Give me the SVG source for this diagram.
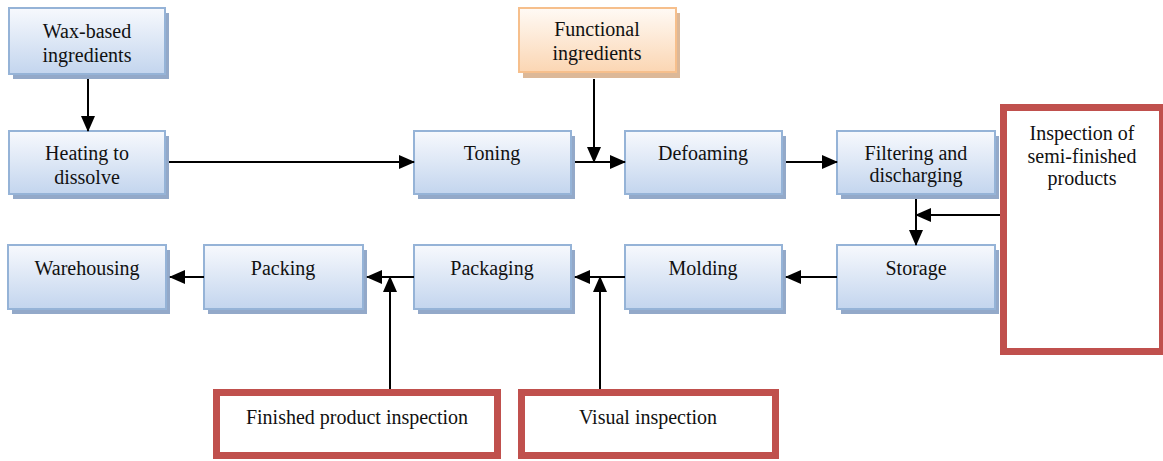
<svg xmlns="http://www.w3.org/2000/svg" width="1163" height="461" viewBox="0 0 1163 461">
<defs>
<linearGradient id="gb" x1="0" y1="0" x2="0" y2="1">
<stop offset="0" stop-color="#f7f9fd"/>
<stop offset="1" stop-color="#c3d5ee"/>
</linearGradient>
<linearGradient id="go" x1="0" y1="0" x2="0" y2="1">
<stop offset="0" stop-color="#fffaf5"/>
<stop offset="1" stop-color="#fbd6b3"/>
</linearGradient>
<marker id="ah" markerUnits="userSpaceOnUse" markerWidth="16" markerHeight="14" refX="15" refY="7" orient="auto">
<path d="M0,0 L16,7 L0,14 z" fill="#000"/>
</marker>
<clipPath id="cw"><rect x="0" y="0" width="200" height="67"/></clipPath>
<clipPath id="cf"><rect x="500" y="0" width="200" height="65"/></clipPath>
<clipPath id="cd"><rect x="830" y="120" width="200" height="184"/></clipPath>
</defs>
<style>
.sh{fill:#93a9c9;}
.shO{fill:#dcb898;}
.bx{fill:url(#gb);stroke:#95b3d7;stroke-width:2;}
.bo{fill:url(#go);stroke:#f6bf8c;stroke-width:2;}
.rd{fill:#fff;stroke:#c0504d;stroke-width:7;}
.c{fill:none;stroke:#000;stroke-width:2;marker-end:url(#ah);}
</style>
<g font-family="Liberation Serif, Times New Roman, serif" font-size="20" fill="#111" text-anchor="middle">
<g id="wax">
<rect class="sh" x="13" y="13" width="156" height="66"/>
<rect class="bx" x="9" y="8" width="156" height="66"/>
<g clip-path="url(#cw)"><text x="87" y="38">Wax-based</text><text x="87" y="62">ingredients</text></g>
</g>
<g id="functional">
<rect class="shO" x="523" y="13" width="157" height="65"/>
<rect class="bo" x="519" y="8" width="157" height="64"/>
<g clip-path="url(#cf)"><text x="597" y="36">Functional</text><text x="597" y="60">ingredients</text></g>
</g>
<g id="heating">
<rect class="sh" x="13" y="136" width="156" height="63"/>
<rect class="bx" x="9" y="131" width="156" height="63"/>
<text x="87" y="160">Heating to</text><text x="87" y="184">dissolve</text>
</g>
<g id="toning">
<rect class="sh" x="418" y="136" width="157" height="63"/>
<rect class="bx" x="414" y="131" width="157" height="63"/>
<text x="492" y="160">Toning</text>
</g>
<g id="defoaming">
<rect class="sh" x="629" y="136" width="157" height="63"/>
<rect class="bx" x="625" y="131" width="157" height="63"/>
<text x="703" y="160">Defoaming</text>
</g>
<g id="filtering">
<rect class="sh" x="841" y="136" width="158" height="63"/>
<rect class="bx" x="837" y="131" width="158" height="63"/>
<g clip-path="url(#cd)"><text x="916" y="160">Filtering and</text><text x="916" y="182">discharging</text></g>
</g>
<g id="semi">
<rect class="rd" x="1003.5" y="107.5" width="159" height="244"/>
<text x="1082" y="140">Inspection of</text><text x="1082" y="163">semi-finished</text><text x="1082" y="185">products</text>
</g>
<g id="warehousing">
<rect class="sh" x="12" y="250" width="158" height="64"/>
<rect class="bx" x="8" y="245" width="158" height="64"/>
<text x="87" y="275">Warehousing</text>
</g>
<g id="packing">
<rect class="sh" x="208" y="250" width="159" height="64"/>
<rect class="bx" x="204" y="245" width="159" height="64"/>
<text x="283" y="275">Packing</text>
</g>
<g id="packaging">
<rect class="sh" x="418" y="250" width="157" height="64"/>
<rect class="bx" x="414" y="245" width="157" height="64"/>
<text x="492" y="275">Packaging</text>
</g>
<g id="molding">
<rect class="sh" x="629" y="250" width="157" height="64"/>
<rect class="bx" x="625" y="245" width="157" height="64"/>
<text x="703" y="275">Molding</text>
</g>
<g id="storage">
<rect class="sh" x="841" y="250" width="158" height="64"/>
<rect class="bx" x="837" y="245" width="158" height="64"/>
<text x="916" y="275">Storage</text>
</g>
<g id="finished">
<rect class="rd" x="216.5" y="392.5" width="281" height="63"/>
<text x="357" y="424">Finished product inspection</text>
</g>
<g id="visual">
<rect class="rd" x="521.5" y="392.5" width="254" height="63"/>
<text x="648" y="424">Visual inspection</text>
</g>
</g>
<g id="connectors">
<path class="c" d="M88,79 L88,131"/>
<path class="c" d="M169,162 L414,162"/>
<path class="c" d="M575,162 L625,162"/>
<path class="c" d="M594,79 L594,162"/>
<path class="c" d="M786,162 L837,162"/>
<path class="c" d="M916,199 L916,245"/>
<path class="c" d="M1000,215 L916,215"/>
<path class="c" d="M837,277 L786,277"/>
<path class="c" d="M625,277 L575,277"/>
<path class="c" d="M600,389 L600,277"/>
<path class="c" d="M414,277 L367,277"/>
<path class="c" d="M390,389 L390,277"/>
<path class="c" d="M204,277 L170,277"/>
</g>
</svg>
